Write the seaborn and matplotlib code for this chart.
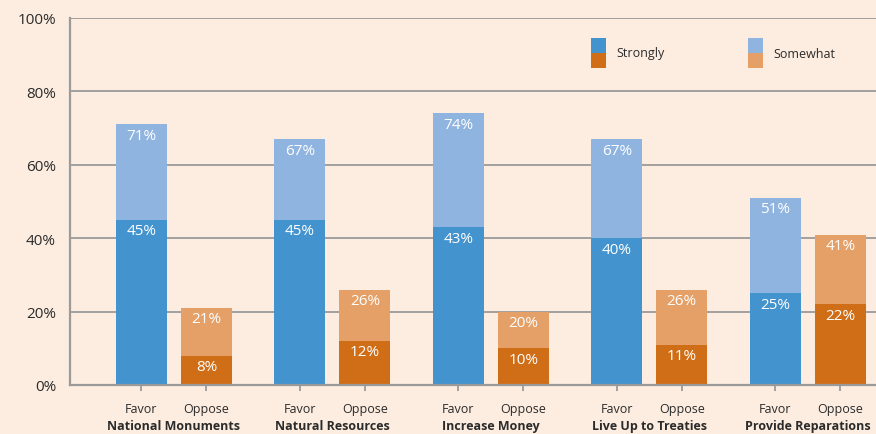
import matplotlib.pyplot as plt
import matplotlib.patches as mpatches
import matplotlib.transforms as mtransforms
import seaborn as sns
import pandas as pd

# data
topics = ['National Monuments', 'Natural Resources', 'Increase Money',
          'Live Up to Treaties', 'Provide Reparations']
favor_strong = [45, 45, 43, 40, 25]
favor_total = [71, 67, 74, 67, 51]
oppose_strong = [8, 12, 10, 11, 22]
oppose_total = [21, 26, 20, 26, 41]
yticks = [0, 20, 40, 60, 80, 100]

bg = '#fdede0'
c_fav_strong = '#4393cf'
c_fav_some = '#8fb4e0'
c_opp_strong = '#d06e17'
c_opp_some = '#e4a067'
grid_c = '#9a9a9a'
text_c = '#2b2b2b'

sns.set_theme(style='white')
plt.rcParams['font.family'] = ['Open Sans', 'DejaVu Sans']

group_gap = 2.44
rows = []
for i, t in enumerate(topics):
    rows.append(dict(topic=t, side='Favor', pos=i * group_gap,
                     strong=favor_strong[i], total=favor_total[i]))
    rows.append(dict(topic=t, side='Oppose', pos=i * group_gap + 1,
                     strong=oppose_strong[i], total=oppose_total[i]))
df = pd.DataFrame(rows)

fig = plt.figure(figsize=(8.76, 4.35), dpi=100, facecolor=bg)
ax = fig.add_axes([70 / 876, 1 - 386 / 435, 1 - 70 / 876, (386 - 19) / 435])
ax.set_facecolor(bg)

ax.set_axisbelow(True)
ax.yaxis.grid(True, color=grid_c, linewidth=1.3)

sns.barplot(data=df, x='pos', y='total', hue='side', native_scale=True,
            palette={'Favor': c_fav_some, 'Oppose': c_opp_some},
            width=0.785, saturation=1, errorbar=None, legend=False, ax=ax,
            linewidth=0)
sns.barplot(data=df, x='pos', y='strong', hue='side', native_scale=True,
            palette={'Favor': c_fav_strong, 'Oppose': c_opp_strong},
            width=0.785, saturation=1, errorbar=None, legend=False, ax=ax,
            linewidth=0)

# value labels just under the top of each segment
off = mtransforms.offset_copy(ax.transData, fig=fig, x=0, y=-11, units='dots')
for _, r in df.iterrows():
    for v in (r['total'], r['strong']):
        ax.text(r['pos'], v, f"{v}%", transform=off, ha='center', va='center',
                color='white', fontsize=11)

ax.set_xlim(-1.1, 4 * group_gap + 1 + 0.55)
ax.set_ylim(0, 100)
ax.set_yticks(yticks)
ax.set_yticklabels([f"{v}%" for v in yticks], fontsize=11, color=text_c)
ax.set_xticks(df['pos'])
ax.set_xticklabels(df['side'], fontsize=9, color=text_c)
ax.tick_params(axis='y', length=0, pad=10)
ax.tick_params(axis='x', length=4, width=1.3, color=grid_c, pad=8, bottom=True)
ax.set_xlabel('')
ax.set_ylabel('')

for s in ['top', 'right']:
    ax.spines[s].set_visible(False)
for s in ['left', 'bottom']:
    ax.spines[s].set_color(grid_c)
    ax.spines[s].set_linewidth(1.6)

# group names under the Favor/Oppose labels
trans = mtransforms.blended_transform_factory(ax.transData, fig.transFigure)
for i, t in enumerate(topics):
    ax.text(i * group_gap + 0.5, 1 - 427 / 435, t, transform=trans,
            ha='center', va='center', fontsize=9, fontweight='bold',
            color=text_c)

# legend: split swatches (strong on bottom, somewhat on top)
def swatch(x, top_c, bot_c, label):
    w, h = 15 / 876, 15 / 435
    y0 = 1 - 69 / 435
    fig.patches.append(mpatches.Rectangle((x, y0), w, h, color=bot_c,
                                          transform=fig.transFigure, lw=0))
    fig.patches.append(mpatches.Rectangle((x, y0 + h), w, h, color=top_c,
                                          transform=fig.transFigure, lw=0))
    fig.text(x + 25 / 876, y0 + h, label, ha='left', va='center',
             fontsize=9, color=text_c)

swatch(591 / 876, c_fav_strong, c_opp_strong, 'Strongly')
swatch(748 / 876, c_fav_some, c_opp_some, 'Somewhat')

fig.savefig('out.png', dpi=100, facecolor=bg)
